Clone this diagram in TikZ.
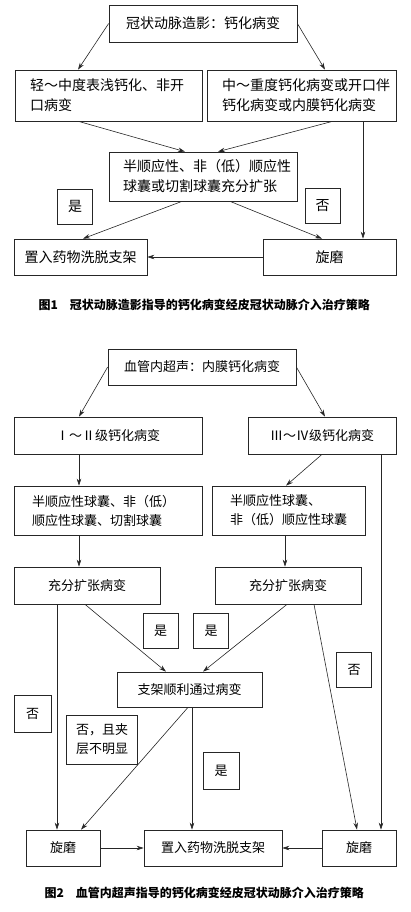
\documentclass[tikz,border=0pt]{standalone}
\usepackage{fontspec}
\setmainfont{Noto Sans CJK SC}
\usepackage{tikz}
\usetikzlibrary{arrows.meta}

\begin{document}
\begin{tikzpicture}[x=1pt, y=-1pt,
    box/.style={draw=black!85, line width=0.7pt, inner sep=0pt, align=center},
    lbox/.style={box, align=left},
    tag/.style={box, minimum width=35pt, minimum height=35pt},
    arr/.style={draw=black!85, line width=0.6pt, -{Stealth[length=7pt, width=4.5pt]}},
    figa/.style={font=\fontsize{14}{20}\selectfont},
    figb/.style={font=\fontsize{13}{19}\selectfont},
    capt/.style={font=\fontsize{12}{14}\selectfont\bfseries, anchor=west}]
  \useasboundingbox (0,0) rectangle (410,912);

  % Figure 1
  \begin{scope}[figa]
    \node[box, minimum width=188pt, minimum height=37pt] (cag) at (203,23.5) {冠状动脉造影：钙化病变};
    \node[lbox, inner xsep=15pt, text width=157pt, minimum height=51pt] (mild) at (108.5,95.5) {轻～中度表浅钙化、非开\\口病变};
    \node[lbox, inner xsep=15pt, text width=159pt, minimum height=51pt] (severe) at (301.5,95.5) {中～重度钙化病变或开口伴\\钙化病变或内膜钙化病变};
    \node[lbox, inner xsep=14pt, text width=160pt, minimum height=49pt] (balloon) at (203,176.5) {半顺应性、非（低）顺应性\\球囊或切割球囊充分扩张};
    \node[tag] (yesa) at (75,206.5) {是};
    \node[tag] (noa) at (322.5,206) {否};
    \node[box, minimum width=133pt, minimum height=36pt] (desa) at (80.5,257) {置入药物洗脱支架};
    \node[box, minimum width=133pt, minimum height=36pt] (rota) at (329.5,257) {旋磨};
  \end{scope}
  % Arrows of figure 1
  \draw[arr] (cag.west) -- ([xshift=-30.5pt]mild.north);
  \draw[arr] (cag.east) -- ([xshift=23.5pt]severe.north);
  \draw[arr] ([xshift=-30pt]mild.south) -- ([xshift=-18pt]balloon.north);
  \draw[arr] ([xshift=31pt]severe.south) -- ([xshift=15pt]balloon.north);
  \draw[arr] ([xshift=61.5pt]severe.south) -- ([xshift=33.5pt]rota.north);
  \draw[arr] ([xshift=-21pt]balloon.south) -- ([xshift=2.5pt]desa.north);
  \draw[arr] ([xshift=27pt]balloon.south) -- ([xshift=-7.5pt]rota.north);
  \draw[arr] (rota.west) -- (desa.east);
  \node[capt] (capa) at (35,305) {图1\quad 冠状动脉造影指导的钙化病变经皮冠状动脉介入治疗策略};

  % Figure 2
  \begin{scope}[figb]
    \node[box, minimum width=188pt, minimum height=36pt] (ivus) at (202,367) {血管内超声：内膜钙化病变};
    \node[box, minimum width=188pt, minimum height=37pt] (gradelo) at (108,435.5) {Ⅰ～Ⅱ级钙化病变};
    \node[box, minimum width=148pt, minimum height=37pt] (gradehi) at (322,435.5) {Ⅲ～Ⅳ级钙化病变};
    \node[lbox, inner xsep=18pt, text width=152pt, minimum height=49pt] (balla) at (108,510.5) {半顺应性球囊、非（低）\\顺应性球囊、切割球囊};
    \node[lbox, inner xsep=18pt, text width=117pt, minimum height=49pt] (ballb) at (288.5,510.5) {半顺应性球囊、\\非（低）顺应性球囊};
    \node[box, minimum width=146pt, minimum height=37pt] (dila) at (87,585.5) {充分扩张病变};
    \node[box, minimum width=146pt, minimum height=37pt] (dilb) at (288,585.5) {充分扩张病变};
    \node[tag] (yesb) at (160.5,631) {是};
    \node[tag] (yesc) at (211,631) {是};
    \node[tag] (nob) at (354,669.5) {否};
    \node[box, minimum width=145pt, minimum height=35pt] (pass) at (189.5,689.5) {支架顺利通过病变};
    \node[tag, minimum width=37pt, minimum height=37pt] (noc) at (32.5,713.5) {否};
    \node[lbox, inner xsep=10pt, text width=51pt, minimum height=49pt] (nodis) at (101.5,739.5) {否，且夹\\层不明显};
    \node[tag, minimum width=36pt, minimum height=37pt] (yesd) at (221,770.5) {是};
    \node[box, minimum width=74pt, minimum height=36pt] (rotb) at (63,848) {旋磨};
    \node[box, minimum width=138pt, minimum height=36pt] (desb) at (213,848) {置入药物洗脱支架};
    \node[box, minimum width=74pt, minimum height=36pt] (rotc) at (359,848) {旋磨};
  \end{scope}
  % Arrows of figure 2
  \draw[arr] (ivus.west) -- ([xshift=-29pt]gradelo.north);
  \draw[arr] (ivus.east) -- ([xshift=3pt]gradehi.north);
  \draw[arr] ([xshift=-29pt]gradelo.south) -- ([xshift=-29pt]balla.north);
  \draw[arr] (gradehi.south) -- ([xshift=-2.5pt]ballb.north);
  \draw[arr] ([xshift=59pt]gradehi.south) -- ([xshift=22pt]rotc.north);
  \draw[arr] ([xshift=-29pt]balla.south) -- ([xshift=-8pt]dila.north);
  \draw[arr] ([xshift=-3.5pt]ballb.south) -- ([xshift=-3pt]dilb.north);
  \draw[arr] ([xshift=-30pt]dila.south) -- ([xshift=-6pt]rotb.north);
  \draw[arr] ([xshift=-2pt]dila.south) -- ([xshift=-23.5pt]pass.north);
  \draw[arr] ([xshift=-1pt]dilb.south) -- ([xshift=13.5pt]pass.north);
  \draw[arr] ([xshift=26pt]dilb.south) -- ([xshift=-2pt]rotc.north);
  \draw[arr] ([xshift=-1.5pt]pass.south) -- ([xshift=18pt]rotb.north);
  \draw[arr] ([xshift=2.5pt]pass.south) -- ([xshift=-21pt]desb.north);
  \draw[arr] (rotb.east) -- (desb.west);
  \draw[arr] (rotc.west) -- (desb.east);
  \node[capt] (captb) at (41,893) {图2\quad 血管内超声指导的钙化病变经皮冠状动脉介入治疗策略};
\end{tikzpicture}
\end{document}
